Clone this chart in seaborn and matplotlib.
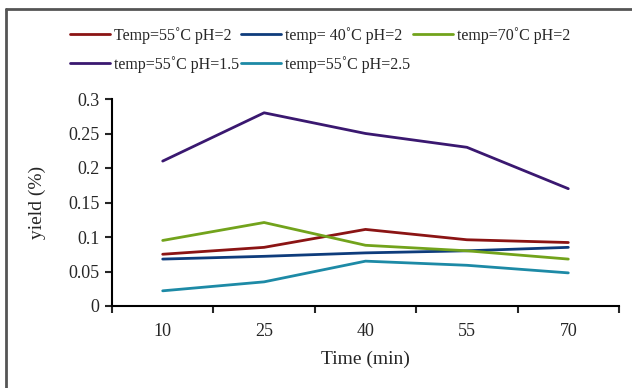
import matplotlib
matplotlib.use("Agg")
import matplotlib.pyplot as plt
import pandas as pd
import seaborn as sns
from matplotlib.lines import Line2D

# data
times = ["10", "25", "40", "55", "70"]
series_names = [
    "Temp=55˚C pH=2",
    "temp= 40˚C pH=2",
    "temp=70˚C pH=2",
    "temp=55˚C pH=1.5",
    "temp=55˚C pH=2.5",
]
t55_ph2 = [0.075, 0.085, 0.111, 0.096, 0.092]
t40_ph2 = [0.068, 0.072, 0.077, 0.080, 0.085]
t70_ph2 = [0.095, 0.121, 0.088, 0.080, 0.068]
t55_ph15 = [0.21, 0.28, 0.25, 0.23, 0.17]
t55_ph25 = [0.022, 0.035, 0.065, 0.059, 0.048]
colors = ["#8b1414", "#0e3c7c", "#72a31c", "#3a1870", "#1d8aa6"]

rows = []
for name, vals in zip(series_names,
                      [t55_ph2, t40_ph2, t70_ph2, t55_ph15, t55_ph25]):
    for i, v in enumerate(vals):
        rows.append({"pos": i, "series": name, "yield": v})
df = pd.DataFrame(rows)

sns.set_style("white")
plt.rcParams["font.family"] = ["Liberation Serif", "DejaVu Serif"]

fig = plt.figure(figsize=(6.32, 3.88), dpi=100)
ax = fig.add_axes([112 / 632, 1 - 306 / 388, 507 / 632, 207 / 388])

sns.lineplot(data=df, x="pos", y="yield", hue="series", hue_order=series_names,
             palette=colors, linewidth=2, ax=ax, legend=True)

ax.set_xlim(-0.5, len(times) - 0.5)
ax.set_ylim(0, 0.3)
ax.set_yticks([0, 0.05, 0.1, 0.15, 0.2, 0.25, 0.3])
ax.set_yticklabels(["0", "0.05", "0.1", "0.15", "0.2", "0.25", "0.3"], fontsize=13)
ax.set_xticks(range(len(times)))
ax.set_xticklabels(times, fontsize=13)
ax.set_xticks([i - 0.5 for i in range(len(times) + 1)], minor=True)
ax.tick_params(axis="x", which="major", length=0, pad=12)
ax.tick_params(axis="x", which="minor", length=5, width=1.5, direction="out",
               bottom=True)
ax.tick_params(axis="y", length=5, width=1.5, direction="out", left=True, pad=4)
ax.set_xlabel("Time (min)", fontsize=14, labelpad=8)
ax.set_ylabel("yield (%)", fontsize=14, labelpad=16)

for side in ["top", "right"]:
    ax.spines[side].set_visible(False)
for side in ["left", "bottom"]:
    ax.spines[side].set_color("black")
    ax.spines[side].set_linewidth(1.5)

# legend laid out row-wise: 3 on top, 2 below
handles, labels = ax.get_legend_handles_labels()
order = [0, 3, 1, 4, 2]
ax.legend([handles[i] for i in order], [labels[i] for i in order],
          ncol=3, loc="upper left", bbox_to_anchor=(70 / 632, 1 - 27 / 388),
          bbox_transform=fig.transFigure, frameon=False, fontsize=11.5,
          handlelength=2.5, handletextpad=0.25, columnspacing=0.15,
          labelspacing=0.75, borderaxespad=0, borderpad=0)

# outer chart border (only top and left edges are visible in the crop)
fig.add_artist(Line2D([6 / 632, 1], [1 - 8.5 / 388, 1 - 8.5 / 388],
                      transform=fig.transFigure, color="#555555", linewidth=2))
fig.add_artist(Line2D([6 / 632, 6 / 632], [0, 1 - 8.5 / 388],
                      transform=fig.transFigure, color="#555555", linewidth=2))

fig.savefig("out.png", dpi=100)
